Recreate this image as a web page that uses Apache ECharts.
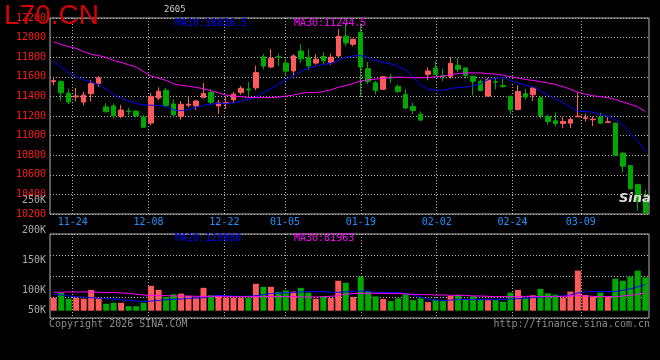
<!DOCTYPE html>
<html><head><meta charset="utf-8">
<script src="https://cdn.jsdelivr.net/npm/echarts@6/dist/echarts.min.js"></script>
<style>html,body{margin:0;padding:0;background:#000;}#c{width:660px;height:360px;}</style>
</head><body><div id="c"></div>
<script>
// ---------- data ----------
const dates = ['11-19','11-20','11-21','11-24','11-25','11-26','11-27','11-28','12-01','12-02',
'12-03','12-04','12-05','12-08','12-09','12-10','12-11','12-12','12-15','12-16',
'12-17','12-18','12-19','12-22','12-23','12-24','12-25','12-26','12-29','12-30',
'12-31','01-05','01-06','01-07','01-08','01-09','01-12','01-13','01-14','01-15',
'01-16','01-19','01-20','01-21','01-22','01-23','01-26','01-27','01-28','01-29',
'01-30','02-02','02-03','02-04','02-05','02-06','02-09','02-10','02-11','02-12',
'02-13','02-24','02-25','02-26','02-27','03-02','03-03','03-04','03-05','03-06',
'03-09','03-10','03-11','03-12','03-13','03-16','03-17','03-18','03-19','03-20'];
const opens = [11550,11553,11434,11395,11343,11427,11533,11293,11303,11197,
11250,11250,11190,11129,11383,11463,11323,11197,11310,11303,
11390,11440,11303,11330,11367,11440,11475,11487,11803,11700,
11805,11740,11660,11863,11797,11740,11807,11747,11813,12014,
11932,12055,11683,11540,11472,11598,11502,11420,11298,11216,
11625,11690,11612,11605,11717,11690,11605,11553,11403,11550,
11510,11400,11267,11427,11417,11386,11195,11151,11124,11127,
11192,11175,11162,11189,11134,11127,10820,10694,10500,10330];
const closes = [11560,11437,11343,11405,11413,11530,11590,11243,11203,11260,
11245,11203,11085,11397,11453,11307,11213,11320,11320,11353,
11430,11340,11333,11340,11423,11483,11465,11643,11710,11790,
11800,11657,11813,11783,11710,11780,11763,11800,12013,11945,
11983,11700,11553,11461,11601,11587,11451,11281,11257,11158,
11659,11625,11605,11737,11676,11615,11553,11461,11570,11545,
11500,11264,11451,11393,11485,11206,11144,11124,11144,11165,
11199,11182,11168,11127,11141,10797,10688,10456,10330,10210];
const lows = [11515,11357,11323,11350,11307,11350,11497,11237,11177,11177,
11207,11187,11085,11105,11360,11287,11187,11163,11290,11260,
11380,11320,11220,11273,11337,11417,11400,11463,11677,11687,
11710,11603,11610,11740,11670,11723,11723,11723,11797,11911,
11911,11393,11523,11420,11472,11536,11434,11267,11219,11151,
11564,11615,11557,11581,11649,11581,11410,11461,11400,11472,
11485,11216,11257,11369,11352,11172,11114,11093,11076,11076,
11189,11144,11097,11127,11127,10790,10626,10450,10234,10200];
const highs = [11600,11563,11480,11487,11447,11570,11607,11330,11327,11313,
11283,11257,11210,11437,11493,11487,11373,11353,11390,11363,
11537,11473,11363,11403,11447,11507,11547,11713,11833,11883,
11837,11783,11830,11933,11883,11830,11850,11837,12087,12143,
11990,12143,11751,11557,11608,11632,11523,11472,11335,11247,
11697,11761,11683,11802,11792,11700,11605,11570,11590,11588,
11581,11410,11512,11478,11495,11393,11216,11233,11189,11189,
11444,11223,11196,11233,11189,11134,10837,10700,10510,10449];
const ma10 = [11760,11700,11640,11600,11570,11547,11520,11473,11420,11380,
11353,11327,11313,11310,11307,11297,11263,11253,11267,11290,
11307,11320,11330,11330,11333,11350,11373,11393,11440,11480,
11523,11570,11613,11657,11687,11710,11723,11737,11767,11800,
11813,11817,11793,11763,11747,11733,11707,11670,11597,11513,
11473,11463,11463,11480,11490,11497,11507,11530,11570,11587,
11593,11560,11537,11517,11497,11457,11413,11373,11337,11290,
11250,11247,11240,11213,11197,11163,11107,11020,10950,10837];
const ma30 = [11957,11930,11907,11890,11857,11830,11817,11797,11767,11747,
11723,11700,11653,11607,11587,11563,11530,11513,11503,11493,
11477,11457,11437,11413,11403,11397,11390,11387,11387,11387,
11393,11403,11413,11430,11440,11440,11450,11467,11493,11510,
11533,11557,11570,11577,11583,11593,11597,11593,11590,11590,
11593,11600,11607,11623,11633,11640,11640,11640,11633,11627,
11617,11600,11587,11573,11563,11550,11537,11523,11500,11473,
11443,11423,11407,11397,11387,11370,11343,11320,11293,11245];
const volumesK = [48.4,59.7,46.0,48.4,46.0,67.0,48.4,33.9,36.3,36.3,
28.2,28.2,36.3,76.6,67.0,50.0,56.4,58.0,52.4,48.4,
71.8,54.0,54.8,48.4,48.4,48.4,48.4,81.4,74.2,74.2,
62.0,65.3,62.9,71.8,60.5,46.0,50.8,47.6,88.7,83.9,
50.0,98.4,64.5,51.6,45.2,40.3,46.8,56.4,42.7,46.8,
37.9,43.5,40.3,52.4,54.8,43.5,51.6,45.2,42.7,42.7,
38.7,60.5,66.9,46.8,54.0,69.3,58.9,55.6,48.4,62.9,
112.9,54.8,50.0,60.5,50.8,93.5,88.7,98.4,112.9,96.7];
const volMa10K = [56.4,54.8,52.4,50.8,49.2,48.4,46.8,46.0,45.2,43.6,
41.9,40.3,38.7,40.3,41.9,43.6,44.4,45.2,46.8,47.6,
48.4,51.6,54.0,53.2,51.6,51.6,51.6,53.2,55.6,58.1,
58.9,59.7,60.5,62.1,62.9,62.9,62.9,61.3,61.3,62.1,
62.9,64.5,63.7,60.5,60.5,60.5,60.5,58.1,54.8,50.0,
44.4,42.7,41.9,42.7,44.4,44.4,43.6,43.6,43.6,43.6,
44.4,45.2,46.0,47.6,48.4,50.0,50.8,51.6,52.4,54.8,
59.7,62.1,62.9,62.9,62.9,62.9,66.1,69.3,74.2,79.0];
const volMa30K = [61.3,61.3,62.1,62.1,62.1,62.1,61.3,60.5,60.5,59.7,
58.9,56.4,54.8,54.0,53.2,53.2,52.4,52.4,52.4,51.6,
51.6,51.6,51.6,51.6,50.8,50.8,50.8,50.8,50.8,50.8,
50.8,50.8,50.8,50.0,50.0,50.0,50.8,51.6,53.2,57.3,
58.1,58.9,58.9,58.9,58.9,58.1,58.1,57.3,56.4,55.6,
55.6,54.8,54.8,54.0,54.0,54.0,52.4,52.4,51.6,50.8,
50.8,50.8,50.8,51.6,51.6,50.8,50.8,50.8,51.6,52.4,
53.2,52.4,51.6,50.8,50.8,50.8,52.4,54.0,56.4,59.7];
const dateTickLabels = ['11-24','12-08','12-22','01-05','01-19','02-02','02-24','03-09'];
const volTickLabels = ['250K','200K','150K','100K','50K'];
const titleText = 'L70.CN';
const codeText = '2605';
const ma10Text = 'MA10:10836.5';
const ma30Text = 'MA30:11244.5';
const volMa10Text = 'MA10:120880';
const volMa30Text = 'MA30:81963';
const copyrightText = 'Copyright 2026 SINA.COM';
const urlText = 'http://finance.sina.com.cn';

// ---------- layout / style ----------
const MONO = '"DejaVu Sans Mono", monospace';
const UP = '#ff5a5a', DOWN = '#00a800';
const GRIDC = '#b4b4b4';
const volLabelY = [200, 230.7, 260.7, 290.3, 310];
const VOL_TOP = 234, VOL_H = 84, VOL_MAX = 200, BAR_BASE_H = 76.7;
const barAxisMin = VOL_MAX * (1 - BAR_BASE_H / VOL_H); // same scale, bars rise from a raised baseline
const isTick = (i, v) => dateTickLabels.indexOf(v) >= 0;
const dotted = { color: GRIDC, type: [1, 2], width: 1 };

function txt(text, x, y, fill, font, align) {
  return { type: 'text', z: 100, silent: true,
    style: { text: text, x: x, y: y, fill: fill, font: font,
      align: align || 'left', verticalAlign: 'middle',
      textAlign: align || 'left', textVerticalAlign: 'middle' } };
}

const chart = echarts.init(document.getElementById('c'));
const graphics = [
  txt(titleText, 4, 16, '#d80000', '28px "Liberation Sans"'),
  txt(codeText, 164, 10, '#cccccc', '9px ' + MONO),
  txt(ma10Text, 175, 23.7, '#0000ff', '10px ' + MONO),
  txt(ma30Text, 294, 23.7, '#ff00ff', '10px ' + MONO),
  txt(volMa10Text, 175, 238.3, '#0000ff', '10px ' + MONO),
  txt(volMa30Text, 294, 238.3, '#ff00ff', '10px ' + MONO),
  txt(copyrightText, 49, 324.3, '#8c8c8c', '10px ' + MONO),
  txt(urlText, 650, 324.3, '#8c8c8c', '10px ' + MONO, 'right'),
  txt('Sina', 619, 199, '#dddddd', 'italic bold 13px "DejaVu Sans"')
];
volTickLabels.forEach((t, k) => graphics.push(txt(t, 46, volLabelY[k], '#aaaaaa', '10px ' + MONO, 'right')));

chart.setOption({
  backgroundColor: '#000',
  animation: false,
  grid: [
    { left: 50, right: 11, top: 18, height: 196, show: true, borderColor: GRIDC, borderWidth: 1 },
    { left: 50, right: 11, top: VOL_TOP, height: VOL_H, show: true, borderColor: GRIDC, borderWidth: 1 },
    { left: 50, right: 11, top: VOL_TOP, height: BAR_BASE_H, show: false }
  ],
  xAxis: [
    { type: 'category', gridIndex: 0, data: dates, boundaryGap: true, show: false, position: 'top' },
    { type: 'category', gridIndex: 0, data: dates, boundaryGap: false, position: 'bottom',
      axisLine: { show: false }, axisTick: { show: false },
      axisLabel: { interval: isTick, color: '#1e90ff', fontFamily: MONO, fontSize: 10, margin: 3 },
      splitLine: { show: true, interval: isTick, lineStyle: dotted } },
    { type: 'category', gridIndex: 1, data: dates, boundaryGap: true, show: false, position: 'top' },
    { type: 'category', gridIndex: 1, data: dates, boundaryGap: false, position: 'bottom',
      axisLine: { show: false }, axisTick: { show: false }, axisLabel: { show: false },
      splitLine: { show: true, interval: isTick, lineStyle: dotted } },
    { type: 'category', gridIndex: 2, data: dates, boundaryGap: true, show: false }
  ],
  yAxis: [
    { type: 'value', gridIndex: 0, min: 10200, max: 12200, interval: 200,
      axisLine: { show: false }, axisTick: { show: false },
      axisLabel: { color: '#ff1a1a', fontFamily: MONO, fontSize: 10, margin: 4, padding: [0, 0, 3, 0],
        formatter: v => String(v) },
      splitLine: { show: true, lineStyle: dotted } },
    { type: 'value', gridIndex: 1, min: 0, max: VOL_MAX, interval: 50,
      axisLine: { show: false }, axisTick: { show: false }, axisLabel: { show: false },
      splitLine: { show: true, lineStyle: dotted } },
    { type: 'value', gridIndex: 2, min: barAxisMin, max: VOL_MAX, show: false, splitLine: { show: false } }
  ],
  series: [
    { type: 'candlestick', xAxisIndex: 0, yAxisIndex: 0, barWidth: 5,
      data: dates.map((d, i) => [opens[i], closes[i], lows[i], highs[i]]),
      itemStyle: { color: UP, color0: DOWN, borderColor: UP, borderColor0: DOWN, borderWidth: 1 } },
    { type: 'line', xAxisIndex: 0, yAxisIndex: 0, data: ma10, symbol: 'none',
      lineStyle: { color: '#0000ff', width: 1 }, z: 3 },
    { type: 'line', xAxisIndex: 0, yAxisIndex: 0, data: ma30, symbol: 'none',
      lineStyle: { color: '#ff00ff', width: 1 }, z: 3 },
    { type: 'bar', xAxisIndex: 4, yAxisIndex: 2, barWidth: 6,
      data: volumesK.map((v, i) => ({ value: v, itemStyle: { color: closes[i] >= opens[i] ? UP : DOWN } })) },
    { type: 'line', xAxisIndex: 2, yAxisIndex: 1, data: volMa10K, symbol: 'none',
      lineStyle: { color: '#0000ff', width: 1 }, z: 3 },
    { type: 'line', xAxisIndex: 2, yAxisIndex: 1, data: volMa30K, symbol: 'none',
      lineStyle: { color: '#ff00ff', width: 1 }, z: 3 }
  ],
  graphic: graphics
});
</script>
</body></html>
